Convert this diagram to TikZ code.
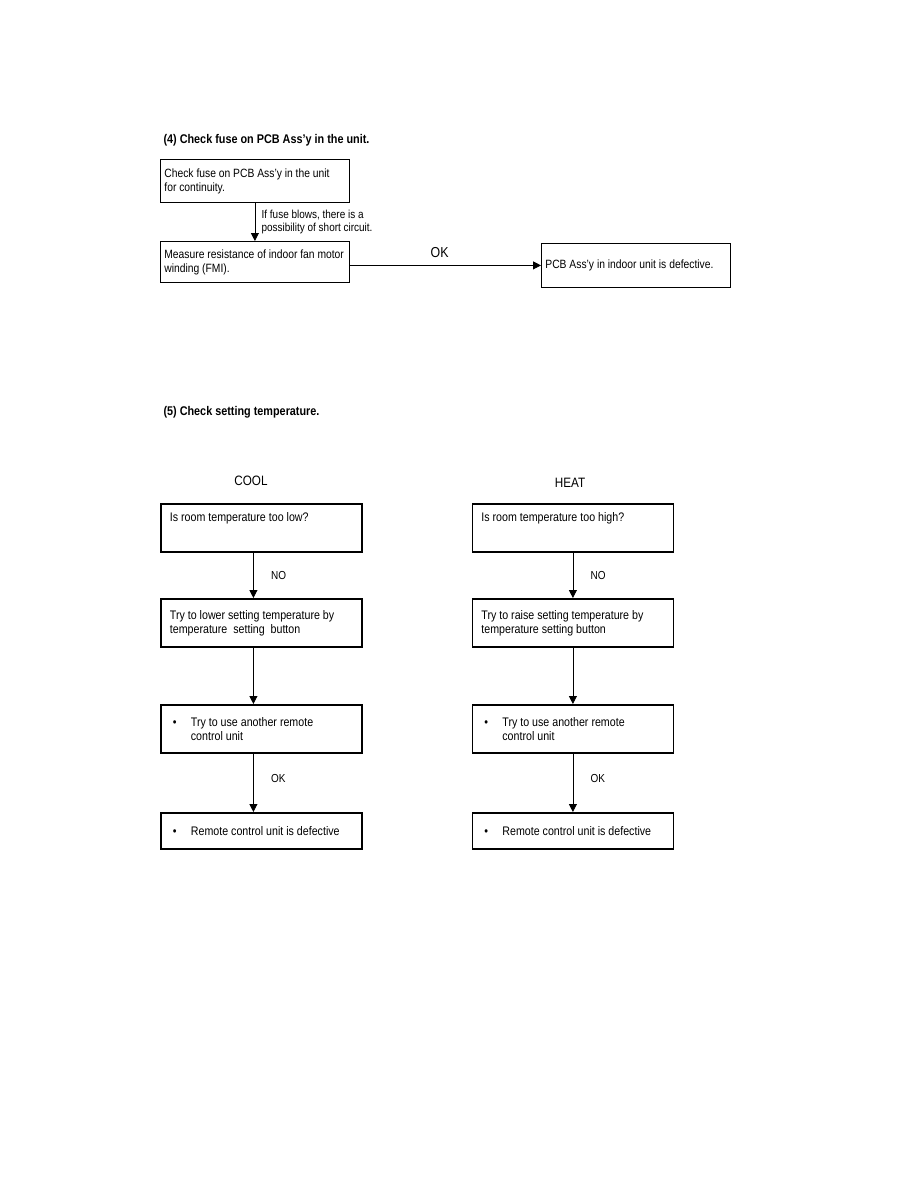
\documentclass[tikz,border=0pt]{standalone}
\usepackage{fontspec}
\setmainfont{Liberation Sans}[FakeStretch=0.86]
\usetikzlibrary{positioning,arrows.meta}

\begin{document}
\begin{tikzpicture}[
  x=1pt, y=-1pt,
  box/.style={draw, anchor=north west, align=flush left, line width=0.8pt,
              inner xsep=4pt, text width=181pt,
              font=\fontsize{12}{14}\selectfont},
  tbox/.style={box, line width=1.8pt, inner xsep=9pt, text width=183pt,
               minimum width=201pt, font=\fontsize{12.4}{14}\selectfont},
  lbl/.style={font=\fontsize{11.6}{12.5}\selectfont, align=left},
  head/.style={anchor=west, font=\bfseries\fontsize{12.6}{14}\selectfont},
  mode/.style={font=\fontsize{13.6}{15}\selectfont},
  arr/.style={-{Triangle[length=8pt,width=8pt]}, line width=0.8pt}
]
  \fill[white] (0,0) rectangle (918,1188);
  \useasboundingbox (0,0) rectangle (918,1188);

  % (4) fuse on PCB
  \node[head] (t4) at (160,140) {(4) Check fuse on PCB Ass'y in the unit.};
  \node[box, minimum height=43pt] (f1) at (160,159)
    {Check fuse on PCB Ass'y in the unit\\for continuity.};
  \node[box, minimum height=41pt] (f2) at (160,241)
    {Measure resistance of indoor fan motor\\winding (FMI).};
  \node[box, minimum height=44pt] (f3) at (541,243)
    {PCB Ass'y in indoor unit is defective.};
  \draw[arr] (f1.south) -- (f2.north)
    node[lbl, midway, right=3pt] {If fuse blows, there is a\\possibility of short circuit.};
  \draw[arr] (f2.east |- f3.west) -- (f3.west)
    node[mode, pos=0.47, above=4pt, font=\fontsize{14.4}{16}\selectfont] {OK};

  % (5) setting temperature
  \node[head] (t5) at (160,412) {(5) Check setting temperature.};
  \node[mode] (cool) at (251,481) {COOL};
  \node[mode] (heat) at (570,483) {HEAT};

  % COOL
  \node[tbox, minimum height=48pt] (c1) at (160,503)
    {Is room temperature too low?\\[8pt]~};
  \node[tbox, minimum height=48pt] (c2) at (160,598)
    {Try to lower setting temperature by\\temperature\ \ setting\ \ button};
  \node[tbox, minimum height=48pt] (c3) at (160,704)
    {\hspace*{3pt}\makebox[18pt][l]{\textbullet}Try to use another remote\\\hspace*{21pt}control unit};
  \node[tbox, minimum height=36pt] (c4) at (160,812)
    {\hspace*{3pt}\makebox[18pt][l]{\textbullet}Remote control unit is defective};
  \draw[arr] ([xshift=-8pt]c1.south) -- ([xshift=-8pt]c2.north)
    node[lbl, midway, right=14pt] {NO};
  \draw[arr] ([xshift=-8pt]c2.south) -- ([xshift=-8pt]c3.north);
  \draw[arr] ([xshift=-8pt]c3.south) -- ([xshift=-8pt]c4.north)
    node[lbl, pos=0.42, right=14pt] {OK};

  % HEAT
  \node[tbox, minimum height=48pt] (h1) at (471.5,503)
    {Is room temperature too high?\\[8pt]~};
  \node[tbox, minimum height=48pt] (h2) at (471.5,598)
    {Try to raise setting temperature by\\temperature setting button};
  \node[tbox, minimum height=48pt] (h3) at (471.5,704)
    {\hspace*{3pt}\makebox[18pt][l]{\textbullet}Try to use another remote\\\hspace*{21pt}control unit};
  \node[tbox, minimum height=36pt] (h4) at (471.5,812)
    {\hspace*{3pt}\makebox[18pt][l]{\textbullet}Remote control unit is defective};
  \draw[arr] (h1.south) -- (h2.north)
    node[lbl, midway, right=14pt] {NO};
  \draw[arr] (h2.south) -- (h3.north);
  \draw[arr] (h3.south) -- (h4.north)
    node[lbl, pos=0.42, right=14pt] {OK};
\end{tikzpicture}
\end{document}
